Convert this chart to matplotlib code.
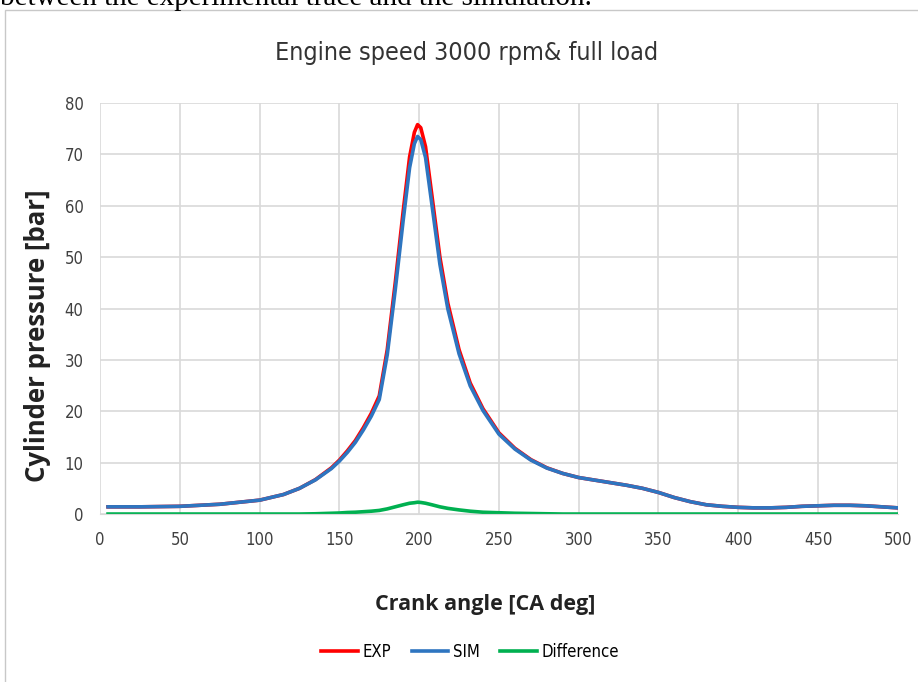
import matplotlib.pyplot as plt
from matplotlib.patches import Rectangle

# Crank angle [deg] and pressures [bar]
angle = [5, 25, 50, 75, 100, 115, 125, 135, 145, 150, 155, 160, 165, 170, 175,
         180, 185, 190, 194, 197, 199, 201, 204, 208, 213, 218, 225, 232, 240, 250, 260,
         270, 280, 290, 300, 310, 320, 330, 340, 350, 360, 370, 380, 390, 400,
         410, 420, 430, 440, 450, 460, 470, 480, 490, 500]
exp_p = [1.4, 1.4, 1.5, 1.9, 2.7, 3.8, 5.0, 6.7, 9.0, 10.5, 12.3, 14.3, 16.8, 19.6, 23.0,
         32.0, 45.0, 59.0, 69.5, 74.3, 75.8, 75.2, 71.5, 62.0, 50.0, 41.0, 32.0, 25.5, 20.5, 15.8, 12.8,
         10.6, 9.0, 7.9, 7.1, 6.6, 6.1, 5.6, 5.0, 4.2, 3.2, 2.4, 1.8, 1.5, 1.3,
         1.2, 1.2, 1.3, 1.5, 1.6, 1.7, 1.7, 1.6, 1.4, 1.2]
sim_p = [1.4, 1.4, 1.5, 1.9, 2.7, 3.8, 5.0, 6.65, 8.85, 10.3, 12.0, 13.95, 16.35, 19.05, 22.3,
         31.0, 43.6, 57.2, 67.4, 72.1, 73.5, 72.9, 69.4, 60.2, 48.6, 39.9, 31.2, 24.95, 20.15, 15.55, 12.65,
         10.5, 8.95, 7.9, 7.1, 6.6, 6.1, 5.6, 5.0, 4.2, 3.2, 2.4, 1.8, 1.5, 1.3,
         1.2, 1.2, 1.3, 1.5, 1.6, 1.7, 1.7, 1.6, 1.4, 1.2]
diff_p = [0, 0, 0, 0, 0, 0, 0, 0.05, 0.15, 0.2, 0.3, 0.35, 0.45, 0.55, 0.7,
          1.0, 1.4, 1.8, 2.1, 2.2, 2.3, 2.25, 2.1, 1.8, 1.4, 1.1, 0.8, 0.55, 0.35, 0.25, 0.15,
          0.1, 0.05, 0, 0, 0, 0, 0, 0, 0, 0, 0, 0, 0, 0,
          0, 0, 0, 0, 0, 0, 0, 0, 0, 0]

narrow = {'family': 'DejaVu Sans', 'stretch': 'condensed'}

fig = plt.figure(figsize=(9.18, 6.82), dpi=100)
ax = fig.add_axes([0.109, 0.2463, 0.869, 0.6026])

# surrounding frame and clipped caption line above the chart
fig.patches.append(Rectangle((5 / 918, -0.1), 1.2, 1 - 10 / 682 + 0.1,
                             transform=fig.transFigure, fill=False,
                             edgecolor='#c8c8c8', linewidth=1.0))
fig.text(0.0, 1 - 5 / 682, 'between the experimental trace and the simulation.',
         family='Liberation Serif', fontsize=21, va='baseline', ha='left')

ax.plot(angle, exp_p, color='#ff0000', lw=2.6, label='EXP')
ax.plot(angle, sim_p, color='#2e75c0', lw=2.6, label='SIM')
ax.plot(angle, diff_p, color='#00b050', lw=2.6, label='Difference')

ax.set_xlim(0, 500)
ax.set_ylim(0, 80)
ax.set_xticks(range(0, 501, 50))
ax.set_yticks(range(0, 81, 10))
ax.grid(True, color='#d9d9d9', lw=1.2)
ax.set_axisbelow(True)
for s in ['top', 'right', 'left']:
    ax.spines[s].set_visible(False)
ax.spines['bottom'].set_color('#d9d9d9')
ax.tick_params(length=0, labelsize=12, labelcolor='#404040', pad=12)
for lab in ax.get_xticklabels() + ax.get_yticklabels():
    lab.set_family(narrow['family'])
    lab.set_stretch(narrow['stretch'])

ax.set_title('Engine speed 3000 rpm& full load', fontsize=18, x=0.46,
             color='#333333', pad=31, **narrow)
ax.set_xlabel('Crank angle [CA deg]', family='Open Sans', fontweight='bold',
              fontsize=15.5, color='#222222', va='center')
ax.xaxis.set_label_coords(0.4825, -0.219)
ax.set_ylabel('Cylinder pressure [bar]', family='Open Sans', fontweight='bold',
              fontsize=18.5, color='#222222', va='center')
ax.yaxis.set_label_coords(-0.079, 0.435)

ax.legend(loc='center', bbox_to_anchor=(0.464, -0.336), ncol=3, frameon=False,
          prop={'family': narrow['family'], 'stretch': narrow['stretch'], 'size': 12},
          handlelength=2.2, handletextpad=0.3, columnspacing=1.2)

fig.savefig('out.png', dpi=100)
